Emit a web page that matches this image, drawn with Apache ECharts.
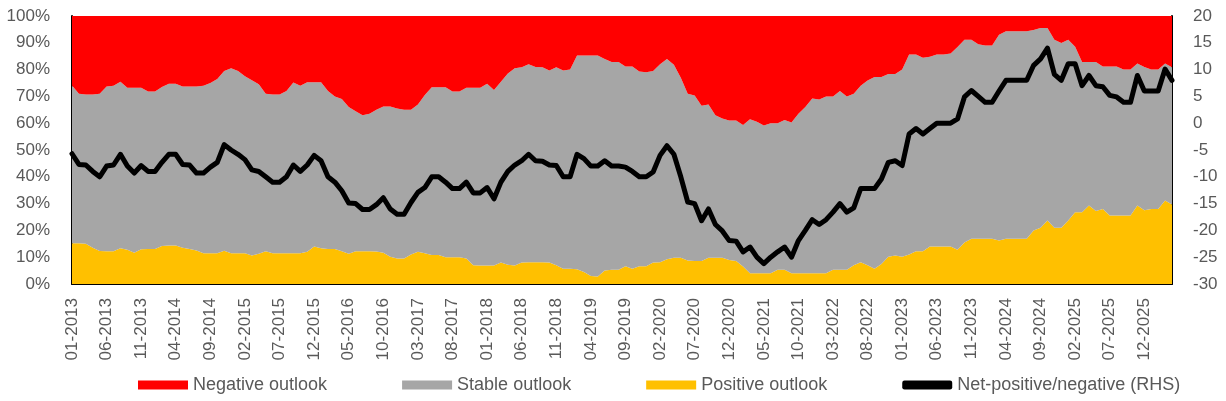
<!DOCTYPE html>
<html>
  <head>
    <meta charset="utf-8" />
    <script src="https://cdn.jsdelivr.net/npm/echarts@6.0.0/dist/echarts.min.js"></script>
    <style>
      html, body { margin: 0; padding: 0; background: #fff; }
      #main { width: 1226px; height: 401px; }
    </style>
  </head>

  <body>
    <div id="main"></div>
    <script type="text/javascript">
      // monthly, 01-2013 .. 04-2026
      var months = [
        '01-2013','02-2013','03-2013','04-2013','05-2013','06-2013','07-2013','08-2013','09-2013','10-2013','11-2013','12-2013',
        '01-2014','02-2014','03-2014','04-2014','05-2014','06-2014','07-2014','08-2014','09-2014','10-2014','11-2014','12-2014',
        '01-2015','02-2015','03-2015','04-2015','05-2015','06-2015','07-2015','08-2015','09-2015','10-2015','11-2015','12-2015',
        '01-2016','02-2016','03-2016','04-2016','05-2016','06-2016','07-2016','08-2016','09-2016','10-2016','11-2016','12-2016',
        '01-2017','02-2017','03-2017','04-2017','05-2017','06-2017','07-2017','08-2017','09-2017','10-2017','11-2017','12-2017',
        '01-2018','02-2018','03-2018','04-2018','05-2018','06-2018','07-2018','08-2018','09-2018','10-2018','11-2018','12-2018',
        '01-2019','02-2019','03-2019','04-2019','05-2019','06-2019','07-2019','08-2019','09-2019','10-2019','11-2019','12-2019',
        '01-2020','02-2020','03-2020','04-2020','05-2020','06-2020','07-2020','08-2020','09-2020','10-2020','11-2020','12-2020',
        '01-2021','02-2021','03-2021','04-2021','05-2021','06-2021','07-2021','08-2021','09-2021','10-2021','11-2021','12-2021',
        '01-2022','02-2022','03-2022','04-2022','05-2022','06-2022','07-2022','08-2022','09-2022','10-2022','11-2022','12-2022',
        '01-2023','02-2023','03-2023','04-2023','05-2023','06-2023','07-2023','08-2023','09-2023','10-2023','11-2023','12-2023',
        '01-2024','02-2024','03-2024','04-2024','05-2024','06-2024','07-2024','08-2024','09-2024','10-2024','11-2024','12-2024',
        '01-2025','02-2025','03-2025','04-2025','05-2025','06-2025','07-2025','08-2025','09-2025','10-2025','11-2025','12-2025',
        '01-2026','02-2026','03-2026','04-2026'
      ];

      // share of outlooks, % (stacked to 100)
      var positive = [
        15.2,15.2,15,13.5,12.3,12.2,12.2,13.3,12.8,11.7,13,13.1,
        13.1,14.2,14.4,14.4,13.5,13.1,12.5,11.5,11.5,11.5,12.4,11.5,
        11.5,11.5,10.6,11.3,12.2,11.5,11.5,11.5,11.5,11.5,12,14,
        13.3,13.1,13.1,12.2,11.3,12.2,12.2,12.2,12.1,11.7,10.2,9.5,
        9.5,11,12,11.5,10.8,10.8,10,10,10,9.5,7,6.9,
        6.9,6.9,8,7.2,6.9,8,8.1,8.1,8.1,8,7,5.7,
        5.7,5.5,4.5,3,2.8,5,5.3,5.3,6.6,5.7,6.6,6.6,
        8,8.1,9.2,9.8,9.8,8.8,8.6,8.6,9.8,9.8,9.8,9,
        8.6,6.5,4,4,4,4,5.3,5.3,4,4,4,4,
        4,4,5.3,5.3,5.3,7,8.1,7,5.7,7.5,10.2,10.6,
        10.2,11,12.2,12.2,14,14,14,14,12.8,15.5,16.9,16.9,
        16.9,16.9,16.2,16.9,16.9,16.9,16.9,20,21,23.7,21,21,
        23.7,26.8,26.8,29.3,27.2,28,25.6,25.6,25.6,25.6,29.3,27.5,
        28,28,31.2,29.7
      ];
      var stable = [
        58.9,55.8,55.7,57.2,58.7,61.5,61.8,62.2,60.4,61.5,60.2,58.7,
        58.7,59.3,60.3,60.3,60.2,60.6,61.2,62.5,63.5,65,67.1,69,
        68,66,65.4,63.2,58.8,59.2,59.2,60.5,63.7,62.5,63.3,61.3,
        62,58.9,56.9,56.8,54.7,52.3,50.8,51.3,52.9,54.5,56,56,
        55.5,54,55,59,62.6,62.6,63.4,61.8,61.8,63.7,66.2,66.3,
        67.8,65.5,67.5,71.3,73.6,72.9,73.9,72.9,72.8,71.7,73.9,74,
        74.3,79.8,80.8,82.3,82.5,79,77.5,77.5,74.6,75.5,72.7,72.4,
        71.5,73.9,74.8,72,67.2,62.2,61.7,57.9,57.2,53.2,52,52,
        52.4,52.8,57.5,56.5,55.1,56,54.7,55.9,56.3,59.5,62,65.2,
        64.8,66,64.7,66.7,64.7,64,65.9,68.9,71.5,69.7,68.2,67.8,
        69.8,74.6,73.4,72.2,70.8,71.6,71.6,72,75.6,75.6,74.2,72.6,
        72.1,72.1,76.8,77.4,77.4,77.4,77.4,74.8,74.5,71.8,70.1,68.9,
        67.4,61.7,56,53.5,55.6,53.2,55.6,55.6,54.4,54.4,53,53.5,
        52,52,51.1,51.2
      ];
      var negative = [
        25.9,29,29.3,29.3,29,26.3,26,24.5,26.8,26.8,26.8,28.2,
        28.2,26.5,25.3,25.3,26.3,26.3,26.3,26,25,23.5,20.5,19.5,
        20.5,22.5,24,25.5,29,29.3,29.3,28,24.8,26,24.7,24.7,
        24.7,28,30,31,34,35.5,37,36.5,35,33.8,33.8,34.5,
        35,35,33,29.5,26.6,26.6,26.6,28.2,28.2,26.8,26.8,26.8,
        25.3,27.6,24.5,21.5,19.5,19.1,18,19,19.1,20.3,19.1,20.3,
        20,14.7,14.7,14.7,14.7,16,17.2,17.2,18.8,18.8,20.7,21,
        20.5,18,16,18.2,23,29,29.7,33.5,33,37,38.2,39,
        39,40.7,38.5,39.5,40.9,40,40,38.8,39.7,36.5,34,30.8,
        31.2,30,30,28,30,29,26,24.1,22.8,22.8,21.6,21.6,
        20,14.4,14.4,15.6,15.2,14.4,14.4,14,11.6,8.9,8.9,10.5,
        11,11,7,5.7,5.7,5.7,5.7,5.2,4.5,4.5,8.9,10.1,
        8.9,11.5,17.2,17.2,17.2,18.8,18.8,18.8,20,20,17.7,19,
        20,20,17.7,19.1
      ];
      // net-positive/negative, right-hand scale
      var net = [
        -5.7,-7.7,-7.8,-9,-10,-8,-7.8,-5.8,-8,-9.3,-7.9,-9,
        -9,-7.3,-5.8,-5.8,-7.7,-7.8,-9.3,-9.3,-8.2,-7.3,-4,-5,
        -5.8,-6.8,-8.7,-9,-10,-11,-11,-10,-7.8,-9,-7.8,-6,
        -7,-10,-11,-12.6,-14.9,-15,-16.1,-16.1,-15.2,-13.9,-16,-17,
        -17,-14.8,-12.9,-12,-10,-10,-11,-12.2,-12.2,-11,-13,-13,
        -12,-14.1,-11,-9,-7.8,-7,-5.8,-7,-7.1,-7.8,-7.9,-10,
        -10,-5.8,-6.6,-8,-8,-7,-8,-8,-8.2,-9,-10,-10,
        -9.1,-6,-4.2,-5.8,-10,-14.7,-15,-18.2,-16,-18.9,-20.1,-21.9,
        -22,-24,-23.1,-25,-26.2,-25,-24,-23.1,-25,-21.9,-20,-18,
        -18.9,-18,-16.6,-15,-16.6,-15.8,-12.2,-12.2,-12.2,-10.4,-7.3,-7,
        -7.9,-2,-1,-2,-1,0,0,0,0.8,4.9,6.1,5,
        3.9,3.9,6,8,8,8,8,10.8,12,14,9.1,8,
        11.1,11.1,7,8.9,7,6.8,5.2,4.9,3.9,3.9,8.9,6,
        6,6,10.1,8
      ];

      var textColor = '#595959';
      var font = "'Liberation Sans', Arial, sans-serif";

      var myChart = echarts.init(document.getElementById('main'));

      var option = {
        animation: false,
        textStyle: { fontFamily: font },
        grid: { left: 72, right: 54, top: 16, bottom: 117, containLabel: false },
        legend: {
          left: 133,
          top: 371,
          itemWidth: 50,
          itemHeight: 9,
          itemGap: 75,
          textStyle: { color: textColor, fontSize: 18, fontFamily: font },
          data: [
            { name: 'Negative outlook', icon: 'rect' },
            { name: 'Stable outlook', icon: 'rect' },
            { name: 'Positive outlook', icon: 'rect' },
            { name: 'Net-positive/negative (RHS)', icon: 'roundRect' }
          ]
        },
        xAxis: {
          type: 'category',
          data: months,
          boundaryGap: false,
          axisLine: { show: true, lineStyle: { color: '#000', width: 2 } },
          axisTick: { show: false },
          axisLabel: {
            interval: 4,
            rotate: 90,
            margin: 14,
            color: textColor,
            fontSize: 17,
            fontFamily: font
          },
          splitLine: { show: false }
        },
        yAxis: [
          {
            type: 'value',
            min: 0,
            max: 100,
            interval: 10,
            axisLine: { show: true, lineStyle: { color: '#000', width: 2 } },
            axisTick: { show: false },
            axisLabel: { formatter: '{value}%', margin: 22, color: textColor, fontSize: 17, fontFamily: font },
            splitLine: { show: false }
          },
          {
            type: 'value',
            min: -30,
            max: 20,
            interval: 5,
            axisLine: { show: true, lineStyle: { color: '#000', width: 2 } },
            axisTick: { show: false },
            axisLabel: { margin: 21, color: textColor, fontSize: 17, fontFamily: font },
            splitLine: { show: false }
          }
        ],
        series: [
          {
            name: 'Positive outlook',
            type: 'line',
            stack: 'outlook',
            data: positive,
            symbol: 'none',
            lineStyle: { width: 0 },
            itemStyle: { color: '#FFC000' },
            areaStyle: { color: '#FFC000', opacity: 1 },
            z: 1
          },
          {
            name: 'Stable outlook',
            type: 'line',
            stack: 'outlook',
            data: stable,
            symbol: 'none',
            lineStyle: { width: 0 },
            itemStyle: { color: '#A6A6A6' },
            areaStyle: { color: '#A6A6A6', opacity: 1 },
            z: 1
          },
          {
            name: 'Negative outlook',
            type: 'line',
            stack: 'outlook',
            data: negative,
            symbol: 'none',
            lineStyle: { width: 0 },
            itemStyle: { color: '#FF0000' },
            areaStyle: { color: '#FF0000', opacity: 1 },
            z: 1
          },
          {
            name: 'Net-positive/negative (RHS)',
            type: 'line',
            yAxisIndex: 1,
            data: net,
            symbol: 'none',
            itemStyle: { color: '#000' },
            lineStyle: { color: '#000', width: 5, join: 'round', cap: 'round' },
            z: 5
          }
        ]
      };

      myChart.setOption(option);
    </script>
  </body>

</html>
